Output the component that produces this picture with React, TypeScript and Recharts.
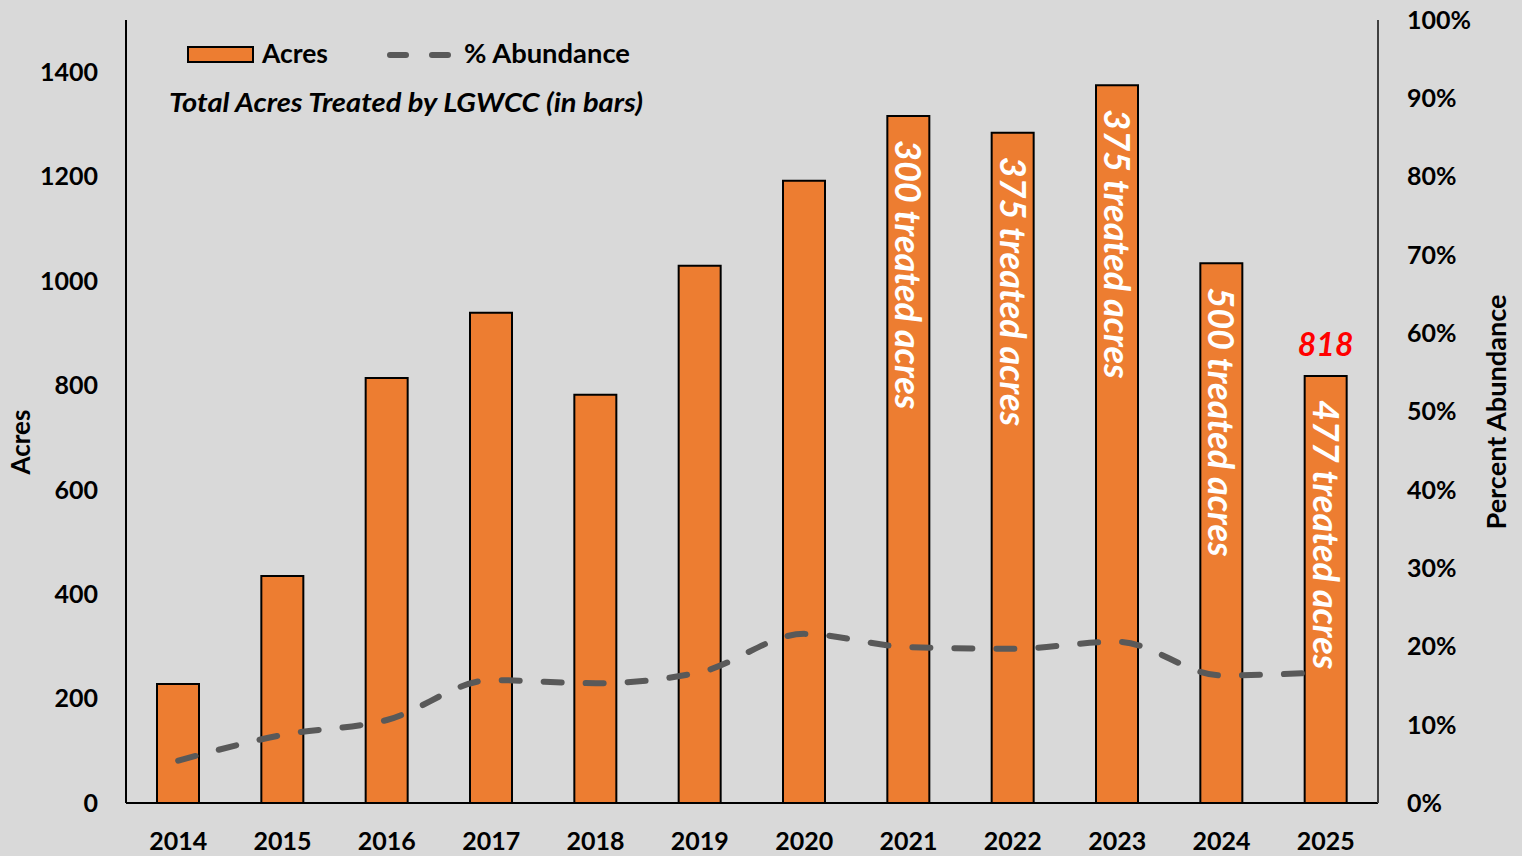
import React from 'react';
import { ComposedChart, Bar, Line, XAxis, YAxis, LabelList } from 'recharts';

const years = ['2014', '2015', '2016', '2017', '2018', '2019', '2020', '2021', '2022', '2023', '2024', '2025'];
const acres = [228, 435, 814, 939, 782, 1029, 1192, 1316, 1284, 1375, 1034, 818];
const abundance = [0.054, 0.087, 0.106, 0.157, 0.153, 0.167, 0.216, 0.199, 0.197, 0.206, 0.163, 0.167];
const treatedNotes = ['', '', '', '', '', '', '', '300 treated acres', '375 treated acres', '375 treated acres', '500 treated acres', '477 treated acres'];
const topLabels = ['', '', '', '', '', '', '', '', '', '', '', '818'];
const leftTicks = [0, 200, 400, 600, 800, 1000, 1200, 1400];
const rightTicks = [0, 0.1, 0.2, 0.3, 0.4, 0.5, 0.6, 0.7, 0.8, 0.9, 1.0];

const data = years.map((y, i) => ({
  year: y,
  acres: acres[i],
  abundance: abundance[i],
  note: treatedNotes[i],
  top: topLabels[i],
}));

const FONT = "Lato, 'Open Sans', 'DejaVu Sans', sans-serif";
const BAR_COLOR = '#ED7D31';
const LINE_COLOR = '#595959';

const NoteLabel = (props: any) => {
  const { x, y, width, value } = props;
  if (!value) return null;
  const cx = Number(x) + Number(width) / 2;
  const ty = Number(y) + 24;
  return (
    <text
      x={cx}
      y={ty}
      dy={13}
      transform={`rotate(90, ${cx}, ${ty})`}
      fill="#FFFFFF"
      fontFamily={FONT}
      fontWeight="bold"
      fontStyle="italic"
      fontSize={36}
      textAnchor="start"
    >
      {value}
    </text>
  );
};

const TopLabel = (props: any) => {
  const { x, y, width, value } = props;
  if (!value) return null;
  const cx = Number(x) + Number(width) / 2;
  return (
    <text
      x={cx}
      y={Number(y) - 20}
      fill="#FF0000"
      fontFamily={FONT}
      fontWeight="bold"
      fontStyle="italic"
      fontSize={32}
      textAnchor="middle"
    >
      {value}
    </text>
  );
};

const tickStyle = { fontFamily: FONT, fontWeight: 'bold' as const, fontSize: 25, fill: '#000000' };

export default function App() {
  return (
    <div style={{ position: 'absolute', left: 0, top: 0, width: 1522, height: 856, background: '#D9D9D9', overflow: 'hidden' }}>
      <ComposedChart
        width={1522}
        height={856}
        data={data}
        margin={{ top: 20, right: 0, bottom: 0, left: 0 }}
      >
        <XAxis
          dataKey="year"
          height={53}
          axisLine={{ stroke: '#000000', strokeWidth: 2 }}
          tickLine={false}
          tickMargin={23}
          tick={tickStyle}
          interval={0}
        />
        <YAxis
          yAxisId="left"
          orientation="left"
          width={126}
          domain={[0, 1500]}
          ticks={leftTicks}
          allowDataOverflow
          axisLine={{ stroke: '#000000', strokeWidth: 2 }}
          tickLine={false}
          tickMargin={22}
          tick={tickStyle}
          label={(p: any) => (
            <text
              x={30}
              y={442}
              transform="rotate(-90, 30, 442)"
              textAnchor="middle"
              fontFamily={FONT}
              fontWeight="bold"
              fontSize={26}
              fill="#000000"
            >
              Acres
            </text>
          )}
        />
        <YAxis
          yAxisId="right"
          orientation="right"
          width={144}
          domain={[0, 1]}
          ticks={rightTicks}
          allowDataOverflow
          axisLine={{ stroke: '#404040', strokeWidth: 2 }}
          tickLine={false}
          tickMargin={23}
          tick={tickStyle}
          tickFormatter={(v: number) => `${Math.round(v * 100)}%`}
          label={(p: any) => (
            <text
              x={1506}
              y={412}
              transform="rotate(-90, 1506, 412)"
              textAnchor="middle"
              fontFamily={FONT}
              fontWeight="bold"
              fontSize={26}
              textLength={235}
              lengthAdjust="spacingAndGlyphs"
              fill="#000000"
            >
              Percent Abundance
            </text>
          )}
        />
        <Bar
          yAxisId="left"
          dataKey="acres"
          fill={BAR_COLOR}
          stroke="#000000"
          strokeWidth={2}
          barSize={42}
          isAnimationActive={false}
        >
          <LabelList dataKey="note" content={NoteLabel} />
          <LabelList dataKey="top" content={TopLabel} />
        </Bar>
        <Line
          yAxisId="right"
          type="monotone"
          dataKey="abundance"
          stroke={LINE_COLOR}
          strokeWidth={6}
          strokeDasharray="18 24"
          strokeLinecap="round"
          dot={false}
          activeDot={false}
          isAnimationActive={false}
        />
      </ComposedChart>
      <svg
        width={1522}
        height={130}
        style={{ position: 'absolute', left: 0, top: 0, pointerEvents: 'none' }}
      >
        <rect x={188} y={47} width={65} height={15} fill={BAR_COLOR} stroke="#000000" strokeWidth={2} />
        <text x={262} y={63} fontFamily={FONT} fontWeight="bold" fontSize={26} textLength={66} lengthAdjust="spacingAndGlyphs" fill="#000000">
          Acres
        </text>
        <line
          x1={390}
          y1={55}
          x2={448}
          y2={55}
          stroke={LINE_COLOR}
          strokeWidth={6}
          strokeDasharray="16 26"
          strokeLinecap="round"
        />
        <text x={464} y={63} fontFamily={FONT} fontWeight="bold" fontSize={26} textLength={166} lengthAdjust="spacingAndGlyphs" fill="#000000">
          % Abundance
        </text>
        <text
          x={169}
          y={112}
          fontFamily={FONT}
          fontWeight="bold"
          fontStyle="italic"
          fontSize={26}
          textLength={474}
          lengthAdjust="spacingAndGlyphs"
          fill="#000000"
        >
          Total Acres Treated by LGWCC (in bars)
        </text>
      </svg>
    </div>
  );
}
